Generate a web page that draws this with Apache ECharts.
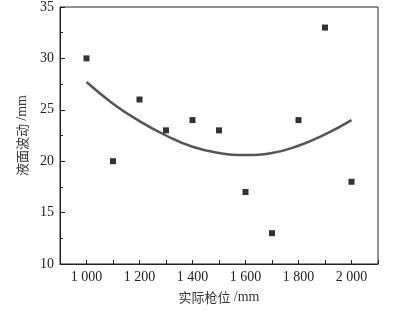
<!DOCTYPE html>
<html>
<head>
<meta charset="utf-8">
<script src="https://cdn.jsdelivr.net/npm/echarts@6/dist/echarts.min.js"></script>
<style>
  html, body { margin: 0; padding: 0; background: #fff; }
  #chart { width: 405px; height: 311px; }
</style>
</head>
<body>
<div id="chart"></div>
<script>
// measured points
const positions = [1000, 1100, 1200, 1300, 1400, 1500, 1600, 1700, 1800, 1900, 2000];
const fluctuation = [30, 20, 26, 23, 24, 23, 17, 13, 24, 33, 18];
// fitted curve
const fitX = [1000, 1100, 1200, 1300, 1400, 1500, 1600, 1700, 1800, 1900, 2000];
const fitY = [27.7, 25.6, 23.9, 22.5, 21.4, 20.8, 20.6, 20.8, 21.5, 22.6, 24.0];
const xLabels = [1000, 1200, 1400, 1600, 1800, 2000];

const serif = '"Liberation Serif", "DejaVu Serif", serif';
const cjk = '"Noto Sans CJK SC", sans-serif';

// axis name: chinese part + serif unit
const nameStyle = {
  color: '#222',
  rich: {
    c: { fontFamily: cjk, fontSize: 13, color: '#333' },
    u: { fontFamily: serif, fontSize: 14, color: '#333' }
  }
};

const chart = echarts.init(document.getElementById('chart'));

const option = {
  animation: false,
  grid: {
    left: 60, right: 27, top: 6, bottom: 47,
    show: true, borderColor: '#222', borderWidth: 1
  },
  xAxis: {
    type: 'value',
    min: 900, max: 2100, interval: 100,
    name: '{c|实际枪位} {u|/mm}',
    nameLocation: 'middle',
    nameGap: 26,
    nameTextStyle: nameStyle,
    axisLine: { lineStyle: { color: '#222', width: 1 } },
    axisTick: { inside: true, length: 4, lineStyle: { color: '#222' } },
    axisLabel: {
      margin: 6,
      fontFamily: serif, fontSize: 14, color: '#222',
      formatter: function (v) {
        if (xLabels.indexOf(v) < 0) return '';
        return Math.floor(v / 1000) + ' ' + String(v % 1000).padStart(3, '0');
      }
    },
    splitLine: { show: false }
  },
  yAxis: {
    type: 'value',
    min: 10, max: 35, interval: 5,
    name: '{c|液面波动} {u|/mm}',
    nameLocation: 'middle',
    nameGap: 30,
    nameTextStyle: nameStyle,
    axisLine: { show: true, lineStyle: { color: '#222', width: 1 } },
    axisTick: { show: true, inside: true, length: 5, lineStyle: { color: '#222' } },
    minorTick: { show: true, splitNumber: 2, length: 3, lineStyle: { color: '#222' } },
    axisLabel: { margin: 6, fontFamily: serif, fontSize: 14, color: '#222' },
    splitLine: { show: false }
  },
  series: [
    {
      type: 'line',
      data: fitX.map((x, i) => [x, fitY[i]]),
      smooth: true,
      showSymbol: false,
      lineStyle: { color: '#555', width: 2.5 },
      z: 2
    },
    {
      type: 'scatter',
      data: positions.map((x, i) => [x, fluctuation[i]]),
      symbol: 'rect',
      symbolSize: 6,
      itemStyle: { color: '#000' },
      z: 3
    }
  ]
};

chart.setOption(option);
</script>
</body>
</html>
